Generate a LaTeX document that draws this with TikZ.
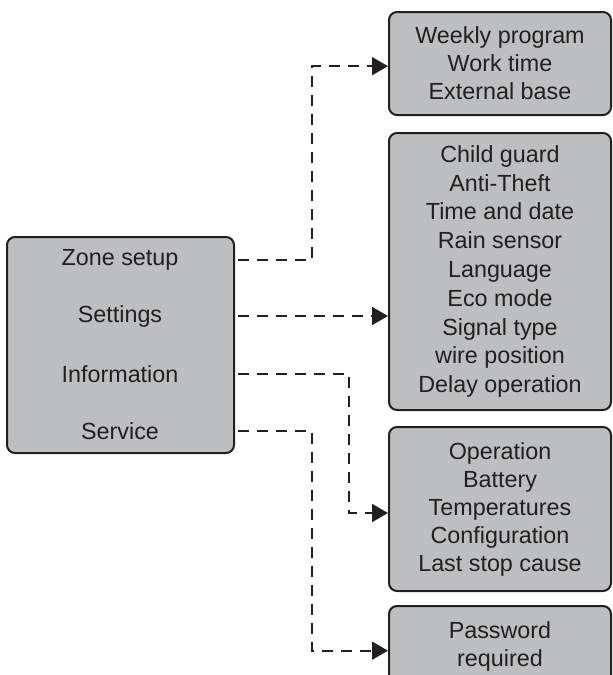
\documentclass[tikz,border=0pt]{standalone}
\usepackage{fontspec}
\setmainfont{Liberation Sans}
\usetikzlibrary{arrows.meta,calc}
\definecolor{boxgray}{RGB}{188,190,192}
\definecolor{ink}{RGB}{35,31,32}
\begin{document}
\begin{tikzpicture}[x=0.75pt,y=-0.75pt,
  menubox/.style={draw=ink,fill=boxgray,line width=1.5pt,rounded corners=6pt,
    inner sep=0pt,align=center,text=ink,
    font=\fontsize{17.5}{21}\selectfont},
  lbl/.style={inner sep=0pt,text=ink,font=\fontsize{17.5}{21}\selectfont},
  conn/.style={draw=ink,line width=1.35pt,dash pattern=on 8.25pt off 6pt,
    dash phase=-2pt,
    -{Triangle[length=12pt,width=13.5pt]}}]
\useasboundingbox (0,0) rectangle (612,675);
\clip (0,0) rectangle (612,675);
% main menu box
\node[menubox,minimum width=170.25pt,minimum height=162pt] (main) at (120.5,345) {};
\node[lbl] (zone) at (120,260) {Zone setup};
\node[lbl] (settings) at (120,316) {Settings};
\node[lbl] (info) at (120,374) {Information};
\node[lbl] (service) at (120,431) {Service};
% right boxes
\node[menubox,minimum width=166.5pt,minimum height=77.25pt] (b1) at (500,63.5)
  {Weekly program\\Work time\\External base};
\node[menubox,minimum width=166.5pt,minimum height=207.75pt,
  font=\fontsize{17.5}{21.6}\selectfont] (b2) at (500,271.5)
  {Child guard\\Anti-Theft\\Time and date\\Rain sensor\\Language\\Eco mode\\Signal type\\wire position\\Delay operation};
\node[menubox,minimum width=166.5pt,minimum height=123pt] (b3) at (500,509)
  {Operation\\Battery\\Temperatures\\Configuration\\Last stop cause};
\node[menubox,minimum width=166.5pt,minimum height=60pt] (b4) at (500,646)
  {Password\\required};
% connectors
\draw[conn] (main.east |- zone) -- ++(77,0) |- ([yshift=-2pt]b1.west);
\draw[conn] (main.east |- settings) -- (b2.west |- settings);
\draw[conn] (main.east |- info) -- ++(114,0) |- ([yshift=-3pt]b3.west);
\draw[conn] (main.east |- service) -- ++(77,0) |- ([yshift=-3.5pt]b4.west);
\end{tikzpicture}
\end{document}
